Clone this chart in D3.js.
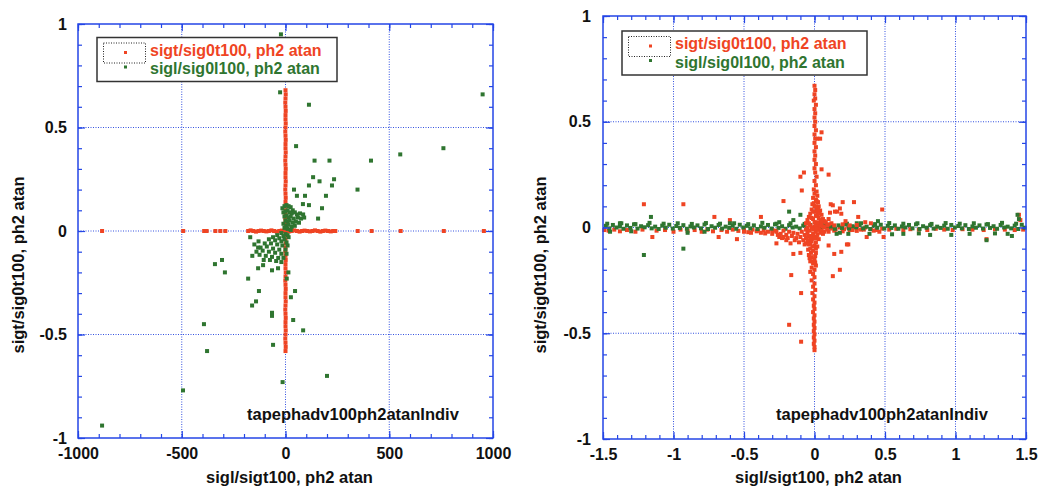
<!DOCTYPE html>
<html>
<head>
<meta charset="utf-8">
<script src="https://cdn.jsdelivr.net/npm/d3@7"></script>
<style>
html,body{margin:0;padding:0;background:#fff;}
svg{display:block;}
text{font-family:"Liberation Sans",Arial,Helvetica,sans-serif;font-weight:bold;}
</style>
</head>
<body>
<svg id="chart" width="1039" height="490"></svg>
<script>
// ---------------- DATA ----------------
const seriesNames = ["sigt/sig0t100, ph2 atan", "sigl/sig0l100, ph2 atan"];
const xTitle = "sigl/sigt100, ph2 atan";
const yTitle = "sigt/sig0t100, ph2 atan";
const annotation = "tapephadv100ph2atanIndiv";

const leftXTicks = [-1000, -500, 0, 500, 1000];
const rightXTicks = [-1.5, -1, -0.5, 0, 0.5, 1, 1.5];
const yTicks = [-1, -0.5, 0, 0.5, 1];

// Left panel, red series (sigt/sig0t100)
const leftRed = [
 [0,0.68],[1,0.66],[0,0.64],[-1,0.62],[0,0.60],[1,0.58],[0,0.56],[0,0.54],[1,0.52],[0,0.50],[-1,0.48],[0,0.46],[1,0.44],[0,0.42],[0,0.40],[1,0.38],[0,0.36],[-1,0.34],[0,0.32],[1,0.30],[0,0.28],[0,0.26],[1,0.24],[0,0.22],[-1,0.20],[0,0.18],[1,0.16],[0,0.14],[0,0.12],[1,0.10],[0,0.08],[-1,0.06],[0,0.04],[1,0.02],
 [0,-0.02],[0,-0.04],[1,-0.06],[0,-0.08],[-1,-0.10],[0,-0.12],[1,-0.14],[0,-0.16],[0,-0.18],[1,-0.20],[0,-0.22],[-1,-0.24],[0,-0.26],[1,-0.28],[0,-0.30],[0,-0.32],[1,-0.34],[0,-0.36],[-1,-0.38],[0,-0.40],[1,-0.42],[0,-0.44],[0,-0.46],[1,-0.48],[0,-0.50],[-1,-0.52],[0,-0.54],[1,-0.56],[0,-0.58],
 [-180,0],[-168,0.003],[-155,0],[-142,-0.003],[-130,0],[-118,0.002],[-105,0],[-92,-0.002],[-80,0],[-68,0.003],[-55,0],[-42,-0.003],[-30,0],[-18,0.002],[-6,0],[6,0],[18,-0.002],[30,0],[42,0.003],[55,0],[68,-0.003],[80,0],[92,0.002],[105,0],[118,-0.002],[130,0],[142,0.003],[155,0],[168,-0.003],[180,0],[192,0.002],[205,0],[218,-0.002],[230,0],[240,0],
 [-884,0],[-493,0],[-392,0],[-380,0],[-338,0],[-314,0],[-290,0],[348,0],[415,0],[555,0],[763,0],[956,0]
];

// Left panel, green series (sigl/sig0l100)
const leftGreen = [
 [-22,0.95],[-26,0.67],[113,0.61],[950,0.66],[51,0.41],[761,0.40],[553,0.37],[140,0.34],[212,0.34],[412,0.34],
 [133,0.26],[164,0.24],[234,0.25],[224,0.22],[113,0.22],[347,0.20],[41,0.20],[55,0.17],[94,0.17],[195,0.17],
 [84,0.13],[113,0.125],[176,0.11],[157,0.06],
 [-15,0.11],[-5,0.12],[5,0.125],[15,0.12],[25,0.115],[35,0.10],[-10,0.09],[0,0.095],[10,0.10],[20,0.09],[30,0.085],[45,0.09],[55,0.08],[70,0.085],[85,0.08],
 [-5,0.07],[5,0.075],[15,0.065],[25,0.07],[40,0.06],[60,0.065],[75,0.06],[90,0.065],[0,0.05],[10,0.045],[20,0.05],[35,0.04],[50,0.045],[65,0.04],
 [-10,0.035],[5,0.025],[15,0.03],[30,0.02],[45,0.025],[-5,0.015],[10,0.01],[25,0.005],
 [-20,-0.01],[0,-0.015],[-40,-0.02],[-10,-0.025],[10,-0.02],[-60,-0.03],[-30,-0.035],[-5,-0.04],[15,-0.03],[-80,-0.04],[-50,-0.045],[-20,-0.05],[5,-0.055],
 [-100,-0.06],[-70,-0.06],[-40,-0.065],[-15,-0.07],[10,-0.07],[-120,-0.08],[-90,-0.075],[-60,-0.085],[-30,-0.09],[0,-0.09],
 [-140,-0.10],[-110,-0.095],[-80,-0.10],[-50,-0.105],[-20,-0.11],[5,-0.11],[-160,-0.12],[-125,-0.115],[-95,-0.12],[-65,-0.125],[-35,-0.13],[-10,-0.13],
 [-105,-0.14],[-75,-0.14],[-45,-0.145],[-20,-0.15],[-170,-0.03],[-150,-0.065],[-130,-0.05],
 [-132,-0.08],[-180,-0.23],[-340,-0.16],[-306,-0.14],[-292,-0.20],[-132,-0.18],[-108,-0.165],[-65,-0.19],[-36,-0.18],
 [-128,-0.29],[-142,-0.34],[-161,-0.36],[-65,-0.41],[-65,-0.395],[26,-0.32],[46,-0.29],[37,-0.43],[85,-0.48],
 [-393,-0.45],[-378,-0.58],[-60,-0.55],[-14,-0.73],[200,-0.70],[-494,-0.77],[-884,-0.94],[14,-0.20],[6,-0.23]
];

// Right panel, red series: band along zero
const rightRedBand = [
 [-1.49,-0.012],[-1.46,-0.015],[-1.42,-0.01],[-1.38,-0.018],[-1.33,-0.012],[-1.27,-0.02],[-1.22,-0.01],[-1.15,-0.045],[-1.12,-0.015],[-1.06,-0.012],
 [-1.0,-0.02],[-0.95,-0.01],[-0.9,-0.016],[-0.85,-0.012],[-0.8,-0.02],[-0.76,-0.01],[-0.72,-0.018],[-0.68,-0.045],[-0.66,-0.012],[-0.62,-0.02],
 [-0.58,-0.01],[-0.55,-0.055],[-0.54,-0.016],[-0.5,-0.012],[-0.47,-0.022],[-0.44,-0.01],[-0.41,-0.018],[-0.38,-0.025],[-0.36,-0.012],[-0.33,-0.02],
 [-0.3,-0.03],[-0.28,-0.015],
 [0.12,-0.005],[0.15,-0.01],[0.18,0.0],[0.21,-0.008],[0.24,0.0],[0.27,-0.012],[0.3,-0.004],[0.33,-0.01],[0.36,0.0],[0.37,-0.045],
 [0.4,-0.008],[0.44,-0.012],[0.49,-0.045],[0.48,-0.005],[0.53,-0.01],[0.58,-0.006],[0.63,-0.012],[0.68,-0.008],[0.74,-0.01],[0.8,-0.012],
 [0.86,-0.006],[0.92,-0.01],[0.98,-0.012],[1.05,-0.008],[1.12,-0.01],[1.2,-0.012],[1.28,-0.008],[1.35,-0.01],[1.42,-0.012],[1.48,-0.01],
 [-0.5,-0.02],[-0.45,-0.025],[-0.4,-0.015],[-0.35,-0.028],[-0.3,-0.012],[-0.26,-0.035],[-0.22,-0.045],[-0.19,-0.05],[-0.14,-0.06],
 [0.1,-0.02],[0.14,-0.015],[0.2,-0.018],[0.25,-0.012],[0.3,-0.016],[0.35,-0.01],[0.42,-0.015],[0.46,-0.02],
 [-1.21,0.11],[-0.93,0.11],[-0.71,0.05],[-0.6,0.035],[-0.38,0.05],[1.46,0.035],[1.45,0.06],[0.48,0.085],[0.31,0.05],[1.22,-0.055]
];

// Right panel, red series: central spike and scatter
const rightRedSpike = [
 [0.0,0.67],[0.005,0.65],[0.0,0.63],[0.005,0.61],[-0.005,0.60],[0.01,0.58],[0.0,0.56],[0.005,0.54],[0.0,0.52],[0.005,0.50],[0.0,0.48],[0.01,0.46],[0.0,0.44],[0.005,0.42],
 [0.0,0.40],[0.01,0.38],[0.0,0.36],[0.005,0.34],[0.0,0.32],[0.01,0.30],[0.0,0.28],[0.005,0.26],[0.015,0.24],[0.0,0.22],[0.01,0.20],[-0.005,0.18],[0.015,0.17],[0.0,0.16],
 [0.02,0.15],[-0.01,0.14],[0.01,0.13],[0.025,0.12],[-0.015,0.11],[0.0,0.10],[0.03,0.10],[0.015,0.09],[-0.02,0.085],[0.04,0.08],[0.0,0.075],[0.02,0.07],[-0.03,0.065],
 [0.05,0.06],[0.01,0.055],[-0.04,0.05],[0.03,0.045],[0.06,0.04],[-0.01,0.04],[-0.05,0.035],[0.045,0.03],[0.08,0.025],[0.0,0.025],[-0.06,0.02],[0.1,0.015],[0.03,0.015],
 [-0.03,0.01],[0.0,0.005],[0.03,0.0],[0.06,0.005],[0.09,0.01],[0.12,0.02],[0.05,0.02],[0.07,0.03],[0.1,0.04],
 [-0.05,0.0],[-0.02,0.0],[0.01,0.01],[0.04,0.01],[0.07,0.0],[-0.04,0.02],[0.02,0.025],[0.05,0.035],[-0.02,0.045],[0.02,0.055],[0.035,0.065],[-0.01,0.075],
 [0.025,0.085],[0.01,0.1],[-0.005,0.115],[0.015,0.125],[0.14,0.01],[0.2,0.015],[0.25,0.01],[0.3,0.012],[0.36,0.025],[0.4,0.02],[0.22,0.03],
 [-0.27,-0.02],[-0.24,-0.03],[-0.22,-0.015],[-0.2,-0.035],[-0.18,-0.02],[-0.16,-0.04],[-0.15,-0.025],[-0.13,-0.05],[-0.12,-0.03],[-0.1,-0.045],
 [-0.09,-0.02],[-0.08,-0.06],[-0.07,-0.035],[-0.06,-0.05],[-0.05,-0.025],[-0.04,-0.065],[-0.03,-0.04],[-0.02,-0.055],[-0.01,-0.03],[0.0,-0.045],
 [0.01,-0.02],[0.02,-0.035],[0.03,-0.01],[0.04,-0.025],[0.05,-0.015],[0.07,-0.02],[0.09,-0.01],[-0.2,-0.06],[-0.17,-0.075],[-0.11,-0.07],[-0.07,-0.08],[-0.25,-0.045],
 [-0.06,-0.01],[-0.035,-0.015],[-0.01,-0.01],[0.015,-0.005],[0.06,-0.03],[-0.045,-0.04],[-0.015,-0.045],[0.015,-0.05],[-0.06,-0.075],[-0.03,-0.075],[-0.015,-0.09],
 [0.01,-0.1],[-0.045,-0.105],[-0.025,-0.12],[0.005,-0.135],[-0.035,-0.145],[-0.015,-0.16],[0.005,-0.165],
 [-0.03,-0.05],[0.0,-0.05],[0.03,-0.055],[-0.05,-0.06],[-0.02,-0.065],[0.01,-0.07],[-0.04,-0.08],[0.0,-0.085],[0.02,-0.09],[-0.03,-0.10],[-0.01,-0.11],[0.01,-0.12],
 [-0.04,-0.13],[-0.02,-0.14],[0.0,-0.15],[-0.03,-0.16],[-0.01,-0.17],[0.01,-0.18],[-0.02,-0.19],[0.0,-0.20],[-0.03,-0.21],[-0.01,-0.22],[0.0,-0.235],[-0.02,-0.25],
 [0.0,-0.265],[-0.01,-0.28],[0.005,-0.295],[-0.015,-0.31],[0.0,-0.325],[-0.01,-0.34],[0.0,-0.355],[-0.005,-0.37],[0.0,-0.385],[-0.01,-0.40],[0.0,-0.415],[-0.005,-0.43],
 [0.0,-0.445],[-0.005,-0.46],[0.0,-0.475],[-0.005,-0.49],[0.0,-0.505],[-0.005,-0.52],[0.0,-0.535],[-0.005,-0.55],[0.0,-0.565],[0.0,-0.58],
 [-0.22,0.125],[-0.075,0.26],[-0.1,0.24],[-0.09,0.175],[0.05,0.45],[0.02,0.42],[0.05,0.275],[0.10,0.25],[0.28,0.12],[0.115,0.11],[0.18,0.09],[0.145,0.075],[0.19,0.065],
 [0.2,0.12],[0.13,0.105],[0.16,0.075],[0.11,0.07],[0.04,0.42],
 [-0.15,-0.125],[-0.165,-0.225],[-0.095,-0.31],[-0.18,-0.46],[-0.095,-0.54],[0.14,-0.125],[0.19,-0.115],[0.18,-0.2],[0.13,-0.23],[0.24,-0.08],
 [-0.27,-0.075],[-0.23,-0.05],[-0.1,-0.12],[0.1,-0.085],[0.23,-0.08]
];

// Right panel, green series
const rightGreen = [
 [-1.48,0.008],[-1.43,0.012],[-1.38,0.005],[-1.33,0.01],[-1.28,0.015],[-1.23,0.006],[-1.18,0.011],[-1.13,0.004],[-1.08,0.009],[-1.03,0.013],
 [-0.98,0.007],[-0.93,0.011],[-0.88,0.005],[-0.83,0.01],[-0.78,0.014],[-0.73,0.006],[-0.68,0.012],[-0.63,0.004],[-0.58,0.009],[-0.53,0.013],
 [-0.48,0.008],[-0.43,0.01],[-0.38,0.005],[-0.33,0.012],[-0.28,0.015],[-0.23,0.006],[-0.18,0.011],[-0.13,0.004],[-0.08,0.009],[-0.03,0.012],
 [0.02,0.007],[0.07,0.011],[0.12,0.005],[0.17,0.01],[0.22,0.014],[0.27,0.006],[0.32,0.012],[0.37,0.004],[0.42,0.009],[0.47,0.013],
 [0.52,0.008],[0.57,0.01],[0.62,0.005],[0.67,0.012],[0.72,0.015],[0.77,0.006],[0.82,0.011],[0.87,0.004],[0.92,0.009],[0.97,0.012],
 [1.02,0.007],[1.07,0.011],[1.12,0.005],[1.17,0.01],[1.22,0.014],[1.27,0.006],[1.32,0.012],[1.37,0.004],[1.42,0.009],[1.47,0.013],
 [-1.455,-0.004],[-1.405,0.0],[-1.355,-0.006],[-1.305,-0.002],[-1.255,-0.005],[-1.205,0.001],[-1.155,-0.004],[-1.105,-0.007],[-1.055,-0.001],[-1.005,-0.005],
 [-0.955,-0.002],[-0.905,-0.006],[-0.855,0.0],[-0.805,-0.004],[-0.755,-0.007],[-0.705,-0.001],[-0.655,-0.005],[-0.605,-0.002],[-0.555,-0.006],[-0.505,0.0],
 [-0.455,-0.004],[-0.405,-0.007],[-0.355,-0.001],[-0.305,-0.005],[-0.255,-0.002],[-0.205,-0.006],[-0.155,0.0],[-0.105,-0.004],[-0.055,-0.003],[-0.005,-0.002],
 [0.045,-0.004],[0.095,0.0],[0.145,-0.006],[0.195,-0.002],[0.245,-0.005],[0.295,0.001],[0.345,-0.004],[0.395,-0.007],[0.445,-0.001],[0.495,-0.005],
 [0.545,-0.002],[0.595,-0.006],[0.645,0.0],[0.695,-0.004],[0.745,-0.007],[0.795,-0.001],[0.845,-0.005],[0.895,-0.002],[0.945,-0.006],[0.995,0.0],
 [1.045,-0.004],[1.095,-0.007],[1.145,-0.001],[1.195,-0.005],[1.245,-0.002],[1.295,-0.006],[1.345,0.0],[1.395,-0.004],[1.445,-0.007],[1.49,-0.001],
 [-1.47,0.018],[-1.37,0.02],[-1.27,0.016],[-1.17,0.022],[-1.07,0.018],[-0.97,0.02],[-0.87,0.017],[-0.77,0.021],[-0.67,0.018],[-0.57,0.02],
 [-0.47,0.016],[-0.37,0.022],[-0.27,0.018],[-0.17,0.02],[-0.07,0.017],[0.23,0.018],[0.33,0.02],[0.43,0.016],[0.53,0.021],[0.63,0.018],
 [0.73,0.02],[0.83,0.017],[0.93,0.021],[1.03,0.018],[1.13,0.02],[1.23,0.016],[1.33,0.022],[1.43,0.018],
 [-1.21,-0.13],[-0.93,-0.10],[1.22,-0.06],[1.40,-0.04],[1.44,0.06],[1.45,0.04],[-1.16,0.05],[-0.18,0.075],[-0.1,0.06],[-0.15,0.035],
 [0.18,-0.025],[0.157,-0.03],[0.24,-0.03],[0.39,-0.03],[0.55,-0.032],[0.63,-0.03],[0.74,-0.028],[0.82,-0.035],[0.97,-0.035],[1.10,-0.03],
 [1.28,-0.028],[1.37,-0.03],[-1.45,-0.02],[-1.3,-0.018],[-0.9,-0.025],[-0.78,-0.02],[-1.38,0.02],[-0.6,0.02],[-0.25,0.025],[0.3,0.02],[0.45,0.03]
];

// ---------------- STYLE / LAYOUT ----------------
const RED = "#ef4423";
const GREEN = "#2f7530";
const BLUE = "#2446e6";
const GRID = "#3452e0";

const svg = d3.select("#chart");

function drawPanel(cfg) {
  const x = d3.scaleLinear().domain(cfg.xDomain).range([cfg.left, cfg.right]);
  const y = d3.scaleLinear().domain([-1, 1]).range([cfg.bottom, cfg.top]);
  const g = svg.append("g");

  // grid
  const xGrid = cfg.xTicks.slice(1, -1);
  const yGrid = yTicks.slice(1, -1);
  g.append("g").selectAll("line").data(xGrid).join("line")
    .attr("x1", d => x(d)).attr("x2", d => x(d))
    .attr("y1", cfg.top).attr("y2", cfg.bottom)
    .attr("stroke", GRID).attr("stroke-width", 1).attr("stroke-dasharray", "1,1.5");
  g.append("g").selectAll("line").data(yGrid).join("line")
    .attr("y1", d => y(d)).attr("y2", d => y(d))
    .attr("x1", cfg.left).attr("x2", cfg.right)
    .attr("stroke", GRID).attr("stroke-width", 1).attr("stroke-dasharray", "1,1.5");

  // points
  const s = 4;
  cfg.layers.forEach(layer => {
    g.append("g").selectAll("rect").data(layer.data).join("rect")
      .attr("x", d => x(d[0]) - s / 2).attr("y", d => y(d[1]) - s / 2)
      .attr("width", s).attr("height", s).attr("fill", layer.color);
  });

  // axes
  const fmt = d => String(d);
  const xMinor = x.ticks(cfg.xMinorCount);
  const yMinor = y.ticks(20);
  function styleAxis(sel) {
    sel.select(".domain").remove();
    sel.selectAll("line").attr("stroke", BLUE).attr("stroke-width", 1.2);
    sel.selectAll("text").attr("fill", "#111").style("font-size", "16px")
      .style("font-family", '"Liberation Sans",Arial,sans-serif').style("font-weight", "bold");
    sel.attr("font-family", null).attr("font-size", null);
  }
  g.append("g").attr("transform", `translate(0,${cfg.bottom})`)
    .call(d3.axisBottom(x).tickValues(xMinor).tickSize(-4).tickFormat("")).call(styleAxis);
  g.append("g").attr("transform", `translate(0,${cfg.bottom})`)
    .call(d3.axisBottom(x).tickValues(cfg.xTicks).tickSize(-7).tickPadding(10).tickFormat(fmt)).call(styleAxis);
  g.append("g").attr("transform", `translate(0,${cfg.top})`)
    .call(d3.axisTop(x).tickValues(xMinor).tickSize(-4).tickFormat("")).call(styleAxis);
  g.append("g").attr("transform", `translate(0,${cfg.top})`)
    .call(d3.axisTop(x).tickValues(cfg.xTicks).tickSize(-7).tickFormat("")).call(styleAxis);
  g.append("g").attr("transform", `translate(${cfg.left},0)`)
    .call(d3.axisLeft(y).tickValues(yMinor).tickSize(-4).tickFormat("")).call(styleAxis);
  g.append("g").attr("transform", `translate(${cfg.left},0)`)
    .call(d3.axisLeft(y).tickValues(yTicks).tickSize(-7).tickPadding(cfg.yPad).tickFormat(fmt)).call(styleAxis);
  g.append("g").attr("transform", `translate(${cfg.right},0)`)
    .call(d3.axisRight(y).tickValues(yMinor).tickSize(-4).tickFormat("")).call(styleAxis);
  g.append("g").attr("transform", `translate(${cfg.right},0)`)
    .call(d3.axisRight(y).tickValues(yTicks).tickSize(-7).tickFormat("")).call(styleAxis);

  // frame
  g.append("rect").attr("x", cfg.left).attr("y", cfg.top)
    .attr("width", cfg.right - cfg.left).attr("height", cfg.bottom - cfg.top)
    .attr("fill", "none").attr("stroke", BLUE).attr("stroke-width", 1.5);

  // titles
  g.append("text").attr("x", (cfg.left + cfg.right) / 2 + 4).attr("y", 483)
    .attr("text-anchor", "middle").attr("font-size", 16.5).attr("fill", "#111").text(xTitle);
  g.append("text").attr("transform", `translate(${cfg.yTitleX},265) rotate(-90)`)
    .attr("text-anchor", "middle").attr("font-size", 16.5).attr("fill", "#111").text(yTitle);

  // annotation
  g.append("text").attr("x", cfg.annX).attr("y", 420)
    .attr("font-size", 16.5).attr("fill", "#111").text(annotation);

  // legend
  const L = cfg.legend;
  const lg = g.append("g").attr("transform", `translate(${L.x},${L.y})`);
  lg.append("rect").attr("x", 0).attr("y", 0).attr("width", L.w).attr("height", 44)
    .attr("fill", "#fff").attr("stroke", "#333").attr("stroke-width", 1.5);
  lg.append("rect").attr("x", 6.5).attr("y", 5.5).attr("width", 42).attr("height", 20)
    .attr("fill", "none").attr("stroke", "#222").attr("stroke-width", 1).attr("stroke-dasharray", "1,1.5");
  const colors = [RED, GREEN];
  seriesNames.forEach((name, i) => {
    lg.append("rect").attr("x", 27).attr("y", (i === 0 ? 15 : 29.5) - 1.5).attr("width", 3).attr("height", 3).attr("fill", colors[i]);
    lg.append("text").attr("x", 53).attr("y", i === 0 ? 18 : 36.8)
      .attr("font-size", 16).attr("fill", colors[i]).text(name);
  });
}

drawPanel({
  left: 78, right: 493, top: 24, bottom: 438,
  xDomain: [-1000, 1000], xTicks: leftXTicks, xMinorCount: 20, yPad: 11,
  yTitleX: 24, annX: 247,
  legend: { x: 97, y: 37.5, w: 240 },
  layers: [{ data: leftRed, color: RED }, { data: leftGreen, color: GREEN }]
});

drawPanel({
  left: 603, right: 1026, top: 16, bottom: 439,
  xDomain: [-1.5, 1.5], xTicks: rightXTicks, xMinorCount: 30, yPad: 12,
  yTitleX: 546, annX: 776,
  legend: { x: 622, y: 31, w: 245 },
  layers: [{ data: rightRedBand, color: RED }, { data: rightGreen, color: GREEN }, { data: rightRedSpike, color: RED }]
});
</script>
</body>
</html>
